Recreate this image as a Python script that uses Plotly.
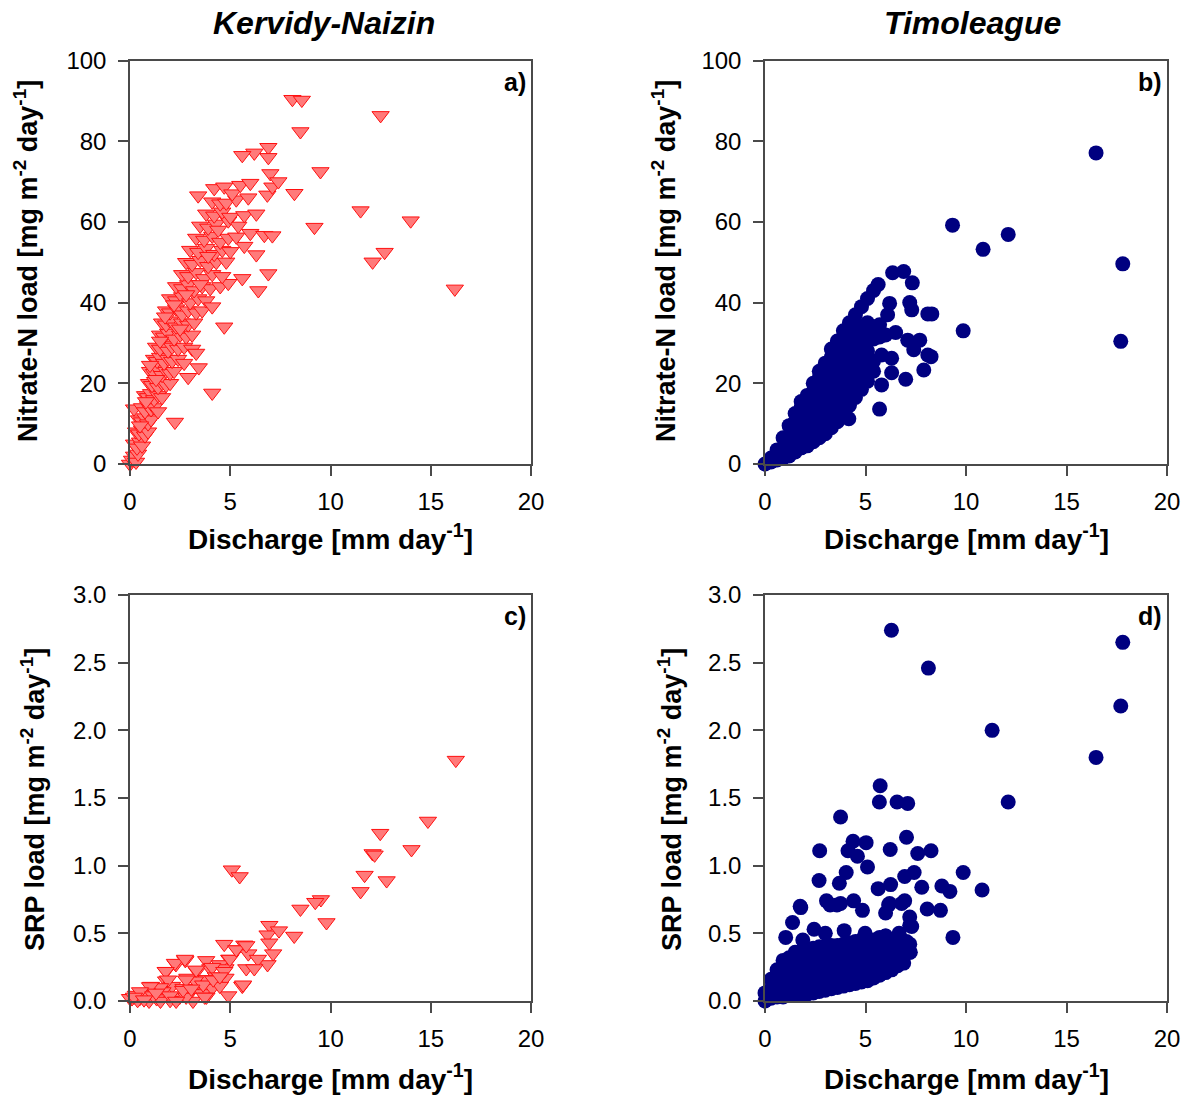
import plotly.graph_objects as go

# ---------------- DATA ----------------
# Panel a: Kervidy-Naizin, nitrate-N load vs discharge
kn_no3_q = [
    0.0, 0.1, 0.2, 0.3, 0.4,
    0.2, 0.35, 0.5, 0.6,
    0.3, 0.45, 0.6, 0.75, 0.9,
    0.45, 0.6, 0.75, 0.9, 1.05,
    0.2, 0.6, 0.75, 0.9, 1.05, 1.2, 1.4,
    0.75, 0.9, 1.05, 1.2, 1.4, 1.6,
    0.95, 1.1, 1.25, 1.4, 1.6, 1.8, 2.0, 2.9,
    1.0, 1.2, 1.4, 1.6, 1.8, 2.0, 2.2, 3.43,
    1.2, 1.35, 1.5, 1.7, 1.9, 2.1, 2.4, 2.7,
    1.3, 1.5, 1.7, 1.9, 2.1, 2.4, 2.7, 3.1, 3.3,
    1.5, 1.7, 1.9, 2.2, 2.5, 2.8, 3.1,
    1.6, 1.8, 2.0, 2.3, 2.6, 2.9, 3.2, 4.7,
    1.8, 2.0, 2.3, 2.6, 2.9, 3.3, 3.6,
    2.0, 2.3, 2.6, 3.0, 3.4, 3.8, 4.1,
    2.3, 2.6, 2.9, 3.2, 3.6, 4.0, 4.5, 4.9, 6.4,
    2.6, 2.9, 3.3, 3.7, 4.1, 4.6, 5.6, 6.9,
    2.8, 3.1, 3.5, 3.9, 4.3, 4.8,
    3.0, 3.4, 3.8, 4.2, 4.6, 5.0, 5.7, 6.3,
    3.3, 3.7, 4.1, 4.5, 4.9, 5.3, 6.0, 6.7, 7.1,
    3.5, 3.9, 4.3, 4.9, 5.4,
    3.8, 4.2, 4.6, 5.0, 5.7, 6.3,
    4.1, 4.5, 4.8, 5.3, 5.9,
    3.4, 4.2, 4.7, 5.1, 5.5, 6.0, 6.85, 7.1,
    8.1, 8.57, 8.5, 12.5, 9.5, 6.9, 6.9, 6.2, 5.6, 7.0, 7.4, 8.2,
    11.5, 9.2, 14.0, 12.1, 12.7, 16.2, 4.1, 2.24,
    0.5, 0.8, 1.0, 1.3, 1.5, 1.75, 2.2, 2.5, 2.8, 3.5, 3.9, 4.4,
]
kn_no3_load = [
    0.0, 1.0, 2.0, 0.5, 2.5,
    5.0, 4.0, 5.5, 4.5,
    8.0, 7.5, 8.5, 7.0, 8.0,
    11.0, 10.5, 11.5, 10.0, 11.0,
    13.7, 14.0, 13.0, 14.5, 13.5, 14.0, 13.0,
    17.0, 16.5, 17.5, 16.0, 17.0, 16.5,
    20.0, 19.5, 20.5, 19.0, 20.0, 19.5, 20.0, 21.5,
    23.0, 22.5, 23.5, 22.0, 23.0, 22.5, 23.0, 23.9,
    26.0, 25.5, 26.5, 25.0, 26.0, 25.5, 26.0, 25.0,
    29.0, 28.5, 29.5, 28.0, 29.0, 28.5, 29.0, 28.5, 27.5,
    32.0, 31.5, 32.5, 31.0, 32.0, 31.5, 32.0,
    35.0, 34.5, 35.5, 34.0, 35.0, 34.5, 35.0, 34.0,
    38.0, 37.5, 38.5, 37.0, 38.0, 37.5, 38.0,
    41.0, 40.5, 41.5, 40.0, 41.0, 40.5, 39.0,
    44.0, 43.5, 44.5, 43.0, 44.0, 43.5, 44.0, 44.8, 43.0,
    47.0, 46.5, 47.5, 46.0, 47.0, 46.5, 46.0, 47.2,
    50.0, 49.5, 50.5, 49.0, 50.0, 50.1,
    53.0, 52.5, 53.5, 52.0, 53.0, 52.7, 54.0, 51.9,
    56.0, 55.5, 56.5, 55.0, 56.0, 56.3, 57.2, 56.7, 56.6,
    59.0, 58.5, 59.5, 60.3, 59.0,
    62.0, 61.5, 62.5, 61.2, 61.6, 62.0,
    65.0, 64.5, 64.7, 65.5, 66.0,
    66.5, 68.3, 68.7, 67.0, 69.1, 69.6, 66.7, 68.7,
    90.4, 90.2, 82.4, 86.4, 72.5, 78.5, 76.0, 77.1, 76.5, 72.0, 70.0, 67.1,
    62.8, 58.7, 60.3, 50.1, 52.5, 43.4, 17.6, 10.4,
    9.5, 15.5, 24.5, 21.0, 30.5, 36.5, 39.5, 33.5, 42.0, 44.5, 51.5, 58.0,
]

# Panel b: Timoleague, nitrate-N load vs discharge
tl_no3_q = [
    0.0, 0.3, 0.3, 0.6, 0.6,
    0.9, 0.9, 0.9,
    1.2, 1.2, 1.2, 1.2,
    1.5, 1.5, 1.5, 1.5, 1.5,
    1.8, 1.8, 1.8, 1.8, 1.8, 1.8,
    2.1, 2.1, 2.1, 2.1, 2.1, 2.1,
    2.4, 2.4, 2.4, 2.4, 2.4, 2.4, 2.4,
    2.7, 2.7, 2.7, 2.7, 2.7, 2.7, 2.7, 2.7,
    3.0, 3.0, 3.0, 3.0, 3.0, 3.0, 3.0, 3.0,
    3.3, 3.3, 3.3, 3.3, 3.3, 3.3, 3.3, 3.3, 3.3,
    3.6, 3.6, 3.6, 3.6, 3.6, 3.6, 3.6, 3.6, 3.6,
    3.9, 3.9, 3.9, 3.9, 3.9, 3.9, 3.9, 3.9, 3.9,
    4.2, 4.2, 4.2, 4.2, 4.2, 4.2, 4.2, 4.2, 4.2,
    4.5, 4.5, 4.5, 4.5, 4.5, 4.5, 4.5, 4.5, 4.5,
    4.8, 4.8, 4.8, 4.8, 4.8, 4.8, 4.8, 4.8,
    5.1, 5.1, 5.1, 5.1, 5.1, 5.1, 5.1, 5.1,
    5.4, 5.4, 5.4, 5.4, 5.4,
    5.7, 5.7, 5.63,
    6.35, 6.9, 7.33, 6.0, 6.5, 7.1, 7.7, 8.1, 7.4, 8.26, 5.8, 6.3,
    6.3, 7.9, 7.0, 5.8, 5.7, 4.17, 6.2, 7.2, 7.3, 8.1, 8.3, 6.1,
    16.47, 9.33, 12.1, 10.85, 17.8, 9.86, 17.7,
]
tl_no3_load = [
    0.0, 0.5, 1.5, 1.0, 3.5,
    1.5, 4.0, 6.5,
    2.0, 4.5, 7.0, 9.5,
    3.0, 5.5, 8.0, 10.5, 12.5,
    4.0, 6.5, 9.0, 11.5, 14.0, 15.5,
    4.5, 7.0, 9.5, 12.0, 14.5, 17.0,
    5.5, 8.0, 10.5, 13.0, 15.5, 18.0, 20.0,
    6.5, 9.0, 11.5, 14.0, 16.5, 19.0, 21.5, 23.0,
    7.5, 10.0, 12.5, 15.0, 17.5, 20.0, 22.5, 25.0,
    9.0, 11.5, 14.0, 16.5, 19.0, 21.5, 24.0, 26.5, 28.5,
    10.5, 13.0, 15.5, 18.0, 20.5, 23.0, 25.5, 28.0, 30.5,
    12.5, 15.0, 17.5, 20.0, 22.5, 25.0, 27.5, 30.0, 33.0,
    14.5, 17.0, 19.5, 22.0, 24.5, 27.0, 29.5, 32.0, 35.0,
    16.5, 19.0, 21.5, 24.0, 26.5, 29.0, 31.5, 34.0, 37.0,
    18.5, 21.0, 23.5, 26.0, 28.5, 31.0, 34.0, 39.0,
    20.5, 23.0, 25.5, 28.0, 30.5, 33.0, 35.0, 41.0,
    23.0, 25.5, 31.0, 34.0, 43.0,
    31.5, 34.5, 44.5,
    47.4, 47.7, 44.9, 32.0, 32.6, 30.7, 30.7, 27.0, 28.3, 26.6, 27.0, 26.2,
    22.6, 23.3, 21.0, 19.6, 13.6, 11.2, 39.8, 40.0, 38.2, 37.2, 37.2, 37.0,
    77.1, 59.2, 56.9, 53.2, 49.6, 33.0, 30.4,
]

# Panel c: Kervidy-Naizin, SRP load vs discharge
kn_srp_q = [
    16.25, 14.86, 12.48, 14.04, 12.1, 12.2, 11.7, 12.8, 11.5, 9.52, 9.24, 8.5,
    9.8, 5.08, 5.47, 6.95, 6.86, 7.43, 8.19, 6.95, 7.14, 6.86,
    4.7, 5.7, 5.33, 5.9, 4.95, 6.38, 5.8, 6.2, 5.6, 4.9,
    3.8, 2.76, 2.29, 1.8, 3.33, 4.0, 4.48, 4.76, 4.29, 4.76, 3.81, 3.24,
    2.86, 1.8, 2.1, 1.24, 1.62, 2.67, 3.05, 3.62, 4.1, 4.48, 3.81, 2.48,
    2.0, 1.33, 0.86, 0.48, 0.1, 0.38, 0.95, 1.52, 3.14, 1.05, 0.67, 0.29,
    2.24, 2.74, 1.78, 4.98, 5.3, 5.8, 1.9, 2.8, 3.3, 4.1, 4.7, 5.64,
    1.5, 1.0, 0.5, 0.0, 1.16, 1.99, 2.8, 3.73, 2.65, 3.65, 4.15, 3.06,
    4.48, 0.2, 0.7, 1.3, 2.3,
]
kn_srp_load = [
    1.78, 1.33, 1.24, 1.12, 1.09, 1.08, 0.93, 0.89, 0.81, 0.75, 0.73, 0.68,
    0.58, 0.97, 0.92, 0.56, 0.49, 0.52, 0.48, 0.43, 0.35, 0.27,
    0.42, 0.415, 0.38, 0.35, 0.31, 0.31, 0.24, 0.24, 0.11, 0.04,
    0.30, 0.30, 0.27, 0.22, 0.22, 0.24, 0.27, 0.24, 0.18, 0.17, 0.16, 0.15,
    0.17, 0.15, 0.11, 0.095, 0.07, 0.095, 0.07, 0.056, 0.095, 0.11, 0.03, 0.03,
    0.005, 0.018, 0.044, 0.018, 0.018, 0.005, 0.0, 0.0, 0.0, 0.11, 0.056, 0.044,
    0.28, 0.31, 0.22, 0.31, 0.38, 0.41, 0.157, 0.157, 0.23, 0.25, 0.22, 0.12,
    0.10, 0.107, 0.07, 0.02, 0.04, 0.04, 0.03, 0.03, 0.08, 0.12, 0.157, 0.09,
    0.18, 0.03, 0.01, 0.06, 0.0,
]

# Panel d: Timoleague, SRP load vs discharge
tl_srp_q = [
    0.0, 0.0,
    0.3, 0.3, 0.3,
    0.6, 0.6, 0.6, 0.6,
    0.9, 0.9, 0.9, 0.9, 0.9,
    1.2, 1.2, 1.2, 1.2, 1.2,
    1.5, 1.5, 1.5, 1.5, 1.5, 1.5,
    1.8, 1.8, 1.8, 1.8, 1.8, 1.8,
    2.1, 2.1, 2.1, 2.1, 2.1, 2.1,
    2.4, 2.4, 2.4, 2.4, 2.4, 2.4,
    2.7, 2.7, 2.7, 2.7, 2.7, 2.7,
    3.0, 3.0, 3.0, 3.0, 3.0, 3.0,
    3.3, 3.3, 3.3, 3.3, 3.3, 3.3,
    3.6, 3.6, 3.6, 3.6, 3.6, 3.6,
    3.9, 3.9, 3.9, 3.9, 3.9, 3.9,
    4.2, 4.2, 4.2, 4.2, 4.2, 4.2,
    4.5, 4.5, 4.5, 4.5, 4.5, 4.5,
    4.8, 4.8, 4.8, 4.8, 4.8, 4.8,
    5.1, 5.1, 5.1, 5.1, 5.1, 5.1,
    5.4, 5.4, 5.4, 5.4, 5.4,
    5.7, 5.7, 5.7, 5.7, 5.7,
    6.0, 6.0, 6.0, 6.0, 6.0,
    6.3, 6.3, 6.3, 6.3,
    6.6, 6.6, 6.6,
    6.9, 6.9, 6.9,
    7.2, 7.2,
    6.29, 8.13, 17.8, 17.7, 11.3, 16.47, 12.1, 5.73, 5.69, 6.57, 7.1, 3.76,
    7.04, 4.38, 5.03, 2.72, 4.13, 6.23, 8.26, 7.6, 4.6, 5.1, 4.04, 9.86,
    6.95, 7.42, 2.69, 3.7, 6.25, 5.63, 7.8, 8.8, 9.2, 10.8, 3.06, 3.76,
    4.41, 4.85, 6.2, 6.0, 6.95, 8.07, 8.73, 1.78, 1.37, 7.2, 7.2, 9.35,
    1.03, 2.44, 1.88, 3.0, 3.94, 4.98, 6.0, 6.67, 7.04, 7.23, 6.85,
    1.75, 3.24, 3.58, 6.15, 6.8, 7.3,
]
tl_srp_load = [
    0.0, 0.06,
    0.02, 0.09, 0.16,
    0.03, 0.10, 0.17, 0.23,
    0.03, 0.10, 0.17, 0.24, 0.30,
    0.04, 0.11, 0.18, 0.25, 0.32,
    0.04, 0.11, 0.18, 0.25, 0.32, 0.36,
    0.05, 0.12, 0.19, 0.26, 0.33, 0.37,
    0.05, 0.12, 0.19, 0.26, 0.33, 0.38,
    0.06, 0.13, 0.20, 0.27, 0.34, 0.39,
    0.07, 0.14, 0.21, 0.28, 0.35, 0.40,
    0.08, 0.15, 0.22, 0.29, 0.36, 0.40,
    0.09, 0.16, 0.23, 0.30, 0.37, 0.41,
    0.10, 0.17, 0.24, 0.31, 0.38, 0.41,
    0.11, 0.18, 0.25, 0.32, 0.39, 0.42,
    0.12, 0.19, 0.26, 0.33, 0.40, 0.43,
    0.13, 0.20, 0.27, 0.34, 0.41, 0.44,
    0.14, 0.21, 0.28, 0.35, 0.42, 0.45,
    0.15, 0.22, 0.29, 0.36, 0.43, 0.46,
    0.17, 0.24, 0.31, 0.38, 0.45,
    0.19, 0.26, 0.33, 0.40, 0.47,
    0.21, 0.28, 0.35, 0.42, 0.48,
    0.23, 0.30, 0.37, 0.44,
    0.26, 0.33, 0.40,
    0.28, 0.35, 0.42,
    0.36, 0.42,
    2.74, 2.46, 2.65, 2.18, 2.0, 1.8, 1.47, 1.59, 1.47, 1.47, 1.46, 1.36,
    1.21, 1.18, 1.17, 1.11, 1.11, 1.12, 1.11, 1.09, 1.07, 0.99, 0.95, 0.95,
    0.92, 0.95, 0.89, 0.87, 0.86, 0.83, 0.84, 0.85, 0.81, 0.82, 0.74, 0.72,
    0.74, 0.67, 0.72, 0.65, 0.74, 0.68, 0.67, 0.69, 0.58, 0.62, 0.56, 0.47,
    0.47, 0.53, 0.45, 0.50, 0.52, 0.50, 0.48, 0.50, 0.44, 0.36, 0.29,
    0.70, 0.71, 0.71, 0.71, 0.72, 0.55,
]

site_titles = ["Kervidy-Naizin", "Timoleague"]
panel_labels = ["a)", "b)", "c)", "d)"]
x_title = "Discharge [mm day<sup>-1</sup>]"
y_titles = ["Nitrate-N load [mg m<sup>-2</sup> day<sup>-1</sup>]",
            "SRP load [mg m<sup>-2</sup> day<sup>-1</sup>]"]
x_ticks = [0, 5, 10, 15, 20]
no3_ticks = [0, 20, 40, 60, 80, 100]
srp_ticks = [0.0, 0.5, 1.0, 1.5, 2.0, 2.5, 3.0]

# ---------------- LAYOUT ----------------
W, H = 1190, 1099
FONT = "Arial, Liberation Sans, Helvetica, sans-serif"


def px(xp):
    return xp / W


def py(yp):
    return 1 - yp / H


LEFT_DOM = [px(130), px(531)]
RIGHT_DOM = [px(765), px(1167)]
TOP_DOM = [py(464), py(60.5)]
BOT_DOM = [py(1001), py(595)]

tri = dict(symbol="triangle-down", size=15, color="#ff7a7a",
           line=dict(color="#ff1010", width=1))
dot = dict(symbol="circle", size=15, color="#000080", line=dict(width=0))

fig = go.Figure()
fig.add_trace(go.Scatter(x=kn_no3_q, y=kn_no3_load, mode="markers", marker=tri,
                         xaxis="x", yaxis="y", cliponaxis=False, showlegend=False))
fig.add_trace(go.Scatter(x=tl_no3_q, y=tl_no3_load, mode="markers", marker=dot,
                         xaxis="x2", yaxis="y2", cliponaxis=False, showlegend=False))
fig.add_trace(go.Scatter(x=kn_srp_q, y=kn_srp_load, mode="markers", marker=tri,
                         xaxis="x3", yaxis="y3", cliponaxis=False, showlegend=False))
fig.add_trace(go.Scatter(x=tl_srp_q, y=tl_srp_load, mode="markers", marker=dot,
                         xaxis="x4", yaxis="y4", cliponaxis=False, showlegend=False))

AXCOL = "#4a4a4a"


def xax(dom, anchor):
    return dict(domain=dom, anchor=anchor, range=[0, 20], tickvals=x_ticks,
                automargin=False,
                showgrid=False, zeroline=False, showline=True, linecolor=AXCOL,
                linewidth=1.5, mirror=True, ticks="outside", ticklen=10,
                tickwidth=1.5, tickcolor=AXCOL, ticklabelstandoff=5,
                tickfont=dict(family=FONT, size=24, color="black"))


def yax(dom, anchor, rng, ticks, fmt):
    return dict(domain=dom, anchor=anchor, range=rng, tickvals=ticks,
                automargin=False,
                tickformat=fmt, showgrid=False, zeroline=False, showline=True,
                linecolor=AXCOL, linewidth=1.5, mirror=True, ticks="outside",
                ticklen=10, tickwidth=1.5, tickcolor=AXCOL, ticklabelstandoff=7,
                tickfont=dict(family=FONT, size=24, color="black"))


fig.update_layout(
    width=W, height=H, margin=dict(l=0, r=0, t=0, b=0, autoexpand=False),
    paper_bgcolor="white", plot_bgcolor="white",
    xaxis=xax(LEFT_DOM, "y"), yaxis=yax(TOP_DOM, "x", [0, 100], no3_ticks, "d"),
    xaxis2=xax(RIGHT_DOM, "y2"), yaxis2=yax(TOP_DOM, "x2", [0, 100], no3_ticks, "d"),
    xaxis3=xax(LEFT_DOM, "y3"), yaxis3=yax(BOT_DOM, "x3", [0, 3], srp_ticks, ".1f"),
    xaxis4=xax(RIGHT_DOM, "y4"), yaxis4=yax(BOT_DOM, "x4", [0, 3], srp_ticks, ".1f"),
)

ann = []
# site titles
for cx, t in zip([324, 972], site_titles):
    ann.append(dict(x=px(cx), y=py(23), xref="paper", yref="paper", text=f"<b><i>{t}</i></b>",
                    showarrow=False, xanchor="center", yanchor="middle",
                    font=dict(family=FONT, size=32, color="black")))
# panel labels
for (rx, cy), t in zip([(528, 82), (1164, 82), (528, 616), (1164, 616)], panel_labels):
    ann.append(dict(x=px(rx), y=py(cy), xref="paper", yref="paper", text=f"<b>{t}</b>",
                    showarrow=False, xanchor="right", yanchor="middle",
                    font=dict(family=FONT, size=25, color="black")))
# x titles
for cx in [330, 966]:
    for cy in [537, 1077]:
        ann.append(dict(x=px(cx), y=py(cy), xref="paper", yref="paper", text=f"<b>{x_title}</b>",
                        showarrow=False, xanchor="center", yanchor="middle",
                        font=dict(family=FONT, size=28, color="black")))
# y titles
for (cx, cy), t in zip([(26, 261), (664, 261), (33, 800), (670, 800)],
                       [y_titles[0], y_titles[0], y_titles[1], y_titles[1]]):
    ann.append(dict(x=px(cx), y=py(cy), xref="paper", yref="paper", text=f"<b>{t}</b>",
                    showarrow=False, xanchor="center", yanchor="middle", textangle=-90,
                    font=dict(family=FONT, size=27, color="black")))
fig.update_layout(annotations=ann)

fig.write_html("out.html")
